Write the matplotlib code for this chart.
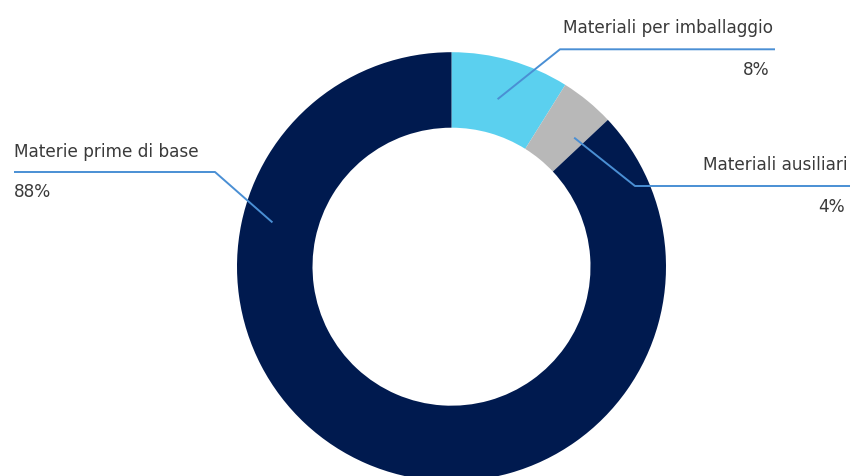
import matplotlib
matplotlib.use("Agg")
from matplotlib import pyplot as plt
import numpy as np

labels = ['Materiali per imballaggio', 'Materiali ausiliari', 'Materie prime di base']
shares = [8.9, 4.1, 87.0]
pct_text = ['8%', '4%', '88%']
colors = ['#5BD0EF', '#B8B8B8', '#001A4F']

W, H = 850, 476
fig = plt.figure(figsize=(W / 100, H / 100), dpi=100)
ax = fig.add_axes([0, 0, 1, 1])

cx, cy = 451.5, H - 266.7
R = 214.5
wedges, _ = ax.pie(shares, colors=colors, startangle=90, counterclock=False,
                   radius=R, center=(cx, cy), wedgeprops=dict(width=R - 139, linewidth=0))
ax.set_xlim(0, W)
ax.set_ylim(0, H)
ax.set_aspect('equal')
ax.axis('off')

plt.rcParams['font.family'] = ['DejaVu Sans']
line_col = '#4A8FD4'
txt_col = '#3A3A3A'
fs = 12.2

# where along each wedge (clockwise) the leader line starts, and its radius
along = [0.48, 0.78, 0.757]
rad = [0.81, 0.83, 0.86]
# elbow point, end of horizontal, label side
elbow = [(560, 49.3), (635, 186), (215, 172)]
end_x = [775, 850, 14]

for w, f, rr, (ex, ey), xe, lab, pct in zip(wedges, along, rad, elbow, end_x, labels, pct_text):
    a = np.deg2rad(w.theta2 - f * (w.theta2 - w.theta1))
    sx = cx + rr * R * np.cos(a)
    sy = cy + rr * R * np.sin(a)
    ey = H - ey
    ax.plot([sx, ex, xe], [sy, ey, ey], color=line_col, lw=1.4, solid_capstyle='butt')
    if xe > ex:
        ax.text(xe - 2, ey + 21, lab, ha='right', va='center', fontsize=fs, color=txt_col)
        ax.text(xe - 5, ey - 21, pct, ha='right', va='center', fontsize=fs, color=txt_col)
    else:
        ax.text(xe, ey + 20, lab, ha='left', va='center', fontsize=fs, color=txt_col)
        ax.text(xe, ey - 20, pct, ha='left', va='center', fontsize=fs, color=txt_col)

fig.savefig('out.png', dpi=100, facecolor='white')
